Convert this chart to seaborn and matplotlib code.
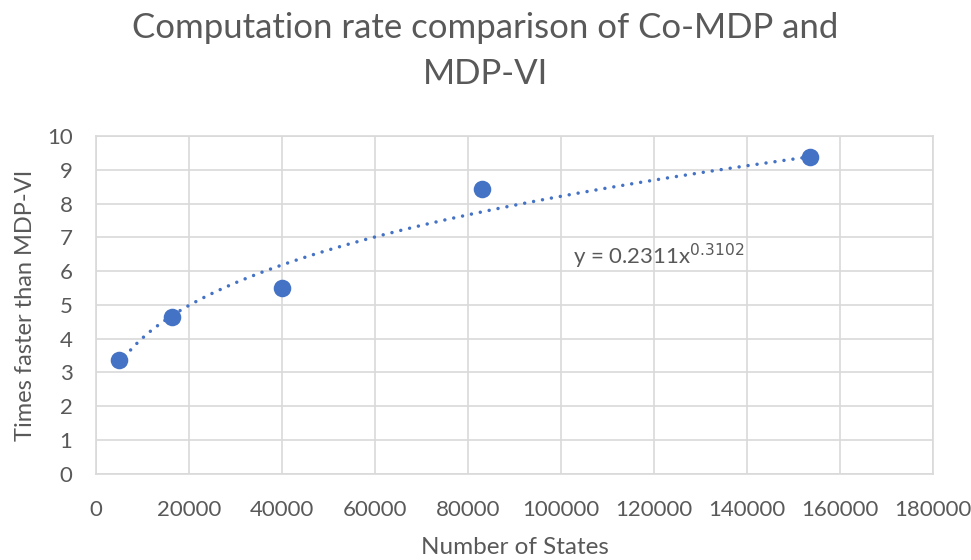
import numpy as np
import pandas as pd
import matplotlib
matplotlib.use("Agg")
import matplotlib.pyplot as plt
import seaborn as sns

# data
states = [5000, 16384, 40000, 82944, 153600]
speedup = [3.38, 4.65, 5.51, 8.42, 9.39]
# power trendline shown on the chart: y = a * x^b
coef_a, coef_b = 0.2311, 0.3102
x_ticks = list(range(0, 180001, 20000))
y_ticks = list(range(0, 11))

sns.set_theme(style="white")
plt.rcParams["font.family"] = ["Lato", "DejaVu Sans"]
GRAY = "#595959"
BLUE = "#4472C4"

df = pd.DataFrame({"states": states, "speedup": speedup})
xs = np.linspace(min(states), max(states), 300)
trend = pd.DataFrame({"states": xs, "speedup": coef_a * xs ** coef_b})

fig = plt.figure(figsize=(9.71, 5.6), dpi=100)
ax = fig.add_axes([0.099, 0.154, 0.862, 0.603])

sns.lineplot(data=trend, x="states", y="speedup", ax=ax, color=BLUE,
             lw=2.5, linestyle=(0, (0.01, 2.6)), dash_capstyle="round", zorder=2)
sns.scatterplot(data=df, x="states", y="speedup", ax=ax, color=BLUE,
                s=160, edgecolor=BLUE, linewidth=0, zorder=3)

ax.set_xlim(0, 180000); ax.set_ylim(0, 10)
ax.set_xticks(x_ticks); ax.set_yticks(y_ticks)
ax.grid(True, color="#D9D9D9", lw=1.2)
for s in ax.spines.values():
    s.set_color("#D9D9D9"); s.set_linewidth(1.2)
ax.tick_params(axis="both", colors=GRAY, labelsize=16, length=0)
ax.tick_params(axis="x", pad=19)
ax.tick_params(axis="y", pad=17)
ax.set_xlabel("Number of States", color=GRAY, fontsize=17.5, labelpad=12)
ax.set_ylabel("Times faster than MDP-VI", color=GRAY, fontsize=17, labelpad=8)
fig.text(0.5, 0.95, "Computation rate comparison of Co-MDP and", color=GRAY,
         fontsize=25, ha="center", va="center")
fig.text(0.5, 0.867, "MDP-VI", color=GRAY, fontsize=25, ha="center", va="center")
ax.text(121000, 6.45, f"y = {coef_a}x$^{{{coef_b}}}$", color=GRAY, fontsize=16,
        ha="center", va="center")

plt.savefig("out.png", dpi=100)
